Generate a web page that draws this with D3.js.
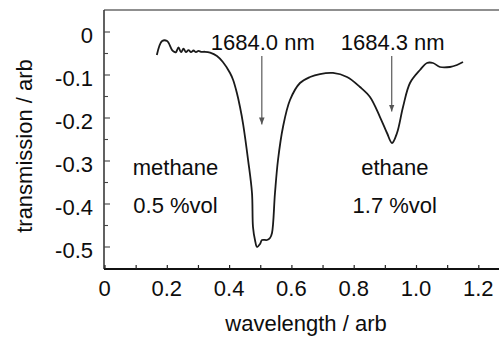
<!DOCTYPE html>
<html>
<head>
<meta charset="utf-8">
<script src="https://cdn.jsdelivr.net/npm/d3@7"></script>
<style>
  html, body { margin: 0; padding: 0; background: #fff; }
  svg { display: block; font-family: "Liberation Sans", Arial, sans-serif; }
</style>
</head>
<body>
<div id="chart"></div>
<script>
// spectrum
const wavelength = [
  0.168, 0.185, 0.201, 0.217, 0.226,
  0.2295, 0.2376, 0.2456, 0.2536, 0.2616, 0.2697, 0.2777, 0.2857, 0.2937, 0.3018, 0.3098, 0.3226,
  0.339, 0.361, 0.380, 0.403, 0.413, 0.425, 0.435, 0.445, 0.461, 0.4735, 0.4767, 0.4831, 0.4896,
  0.4992, 0.5056, 0.5217, 0.5313, 0.5377, 0.5473, 0.557, 0.573, 0.5955, 0.6276, 0.6597, 0.6918,
  0.7335, 0.7785, 0.8202, 0.8523, 0.8844, 0.9069, 0.923, 0.939, 0.9583, 0.9807, 1.0128, 1.0353,
  1.0546, 1.077, 1.1091, 1.1316, 1.1509
]
const transmission = [
  -0.0535, -0.021, -0.021, -0.042, -0.047,
  -0.047, -0.036, -0.047, -0.039, -0.047, -0.042, -0.047, -0.043, -0.047, -0.044, -0.046, -0.046,
  -0.048, -0.0558, -0.0698, -0.0953, -0.1116, -0.1419, -0.1744, -0.214, -0.2977, -0.3744, -0.4535, -0.4837, -0.500,
  -0.493, -0.4837, -0.4837, -0.479, -0.4674, -0.3744, -0.2977, -0.2209, -0.1581, -0.1186, -0.1047, -0.0977,
  -0.0953, -0.1047, -0.1279, -0.1512, -0.1977, -0.2349, -0.2581, -0.2349, -0.1744, -0.1186, -0.0884, -0.0721,
  -0.0721, -0.0814, -0.0814, -0.0767, -0.0698
]

const xTicks = [0, 0.2, 0.4, 0.6, 0.8, 1.0, 1.2]
const xTickLabels = ["0", "0.2", "0.4", "0.6", "0.8", "1.0", "1.2"]
const yTicks = [0, -0.1, -0.2, -0.3, -0.4, -0.5]
const yTickLabels = ["0", "-0.1", "-0.2", "-0.3", "-0.4", "-0.5"]

// peak markers
const peakX = [0.505, 0.922]
const peakLabels = ["1684.0 nm", "1684.3 nm"]
const peakTip = [-0.215, -0.185]

const gasNames = ["methane", "ethane"]
const gasConc = ["0.5 %vol", "1.7 %vol"]
const gasX = [0.228, 0.932]

const width = 499, height = 338
const frameTop = 10, frameBottom = 269, frameLeft = 104

const x = d3.scaleLinear().domain([0, 1.2]).range([104.5, 478.3])
const y = d3.scaleLinear().domain([0, -0.5]).range([32, 247])

const svg = d3.select("#chart").append("svg")
  .attr("width", width)
  .attr("height", height)

const fontSize = 22
const ink = "#0d0d0d"

// frame
svg.append("line")
  .attr("x1", frameLeft).attr("x2", width)
  .attr("y1", frameTop).attr("y2", frameTop)
  .attr("stroke", "#6a6a6a").attr("stroke-width", 1.5)

svg.append("line")
  .attr("x1", frameLeft).attr("x2", frameLeft)
  .attr("y1", frameTop).attr("y2", frameBottom)
  .attr("stroke", "#3a3a3a").attr("stroke-width", 1.6)

svg.append("line")
  .attr("x1", frameLeft).attr("x2", width)
  .attr("y1", frameBottom).attr("y2", frameBottom)
  .attr("stroke", "#111").attr("stroke-width", 1.8)

// x axis ticks (inside) and labels
const xAxis = d3.axisBottom(x)
  .tickValues(d3.range(0, 13).map(i => i / 10))
  .tickSize(-4)
  .tickSizeOuter(0)
  .tickFormat("")

const gx = svg.append("g")
  .attr("transform", "translate(0," + frameBottom + ")")
  .call(xAxis)
gx.select(".domain").remove()
gx.selectAll(".tick line").attr("stroke", "#222").attr("stroke-width", 1.2)

svg.append("g").selectAll("text")
  .data(xTicks)
  .join("text")
    .attr("x", d => x(d))
    .attr("y", 296)
    .attr("text-anchor", "middle")
    .attr("font-size", fontSize)
    .attr("fill", ink)
    .text((d, i) => xTickLabels[i])

// y axis ticks (inside) and labels
const yMinor = d3.range(0, 11).map(i => -i * 0.05)
const gy = svg.append("g")
  .attr("transform", "translate(" + frameLeft + ",0)")
gy.selectAll("line")
  .data(yMinor)
  .join("line")
    .attr("x1", 0)
    .attr("x2", (d, i) => i % 2 === 0 ? 6 : 4)
    .attr("y1", d => y(d))
    .attr("y2", d => y(d))
    .attr("stroke", "#444")
    .attr("stroke-width", 1.1)

svg.append("g").selectAll("text")
  .data(yTicks)
  .join("text")
    .attr("x", 93)
    .attr("y", d => y(d))
    .attr("dy", "0.5em")
    .attr("text-anchor", "end")
    .attr("font-size", fontSize)
    .attr("fill", ink)
    .text((d, i) => yTickLabels[i])

// spectrum
const pts = wavelength.map((w, i) => [w, transmission[i]])
const line = d3.line()
  .x(d => x(d[0]))
  .y(d => y(d[1]))
  .curve(d3.curveCatmullRom.alpha(0.5))

svg.append("path")
  .datum(pts)
  .attr("d", line)
  .attr("fill", "none")
  .attr("stroke", "#1a1a1a")
  .attr("stroke-width", 1.8)

// arrows
svg.append("defs").append("marker")
  .attr("id", "head")
  .attr("viewBox", "0 0 10 10")
  .attr("refX", 10).attr("refY", 5)
  .attr("markerWidth", 7).attr("markerHeight", 7)
  .attr("markerUnits", "userSpaceOnUse")
  .attr("orient", "auto")
  .append("path")
    .attr("d", "M0,1 L10,5 L0,9 Z")
    .attr("fill", "#555")

svg.append("g").selectAll("line")
  .data(peakX)
  .join("line")
    .attr("x1", d => x(d)).attr("x2", d => x(d))
    .attr("y1", 56)
    .attr("y2", (d, i) => y(peakTip[i]))
    .attr("stroke", "#666")
    .attr("stroke-width", 1.3)
    .attr("marker-end", "url(#head)")

svg.append("g").selectAll("text")
  .data(peakLabels)
  .join("text")
    .attr("x", (d, i) => x(peakX[i]) + 1)
    .attr("y", 50)
    .attr("text-anchor", "middle")
    .attr("font-size", fontSize)
    .attr("fill", ink)
    .text(d => d)

// gas labels
const gl = svg.append("g")
gl.selectAll("text.name")
  .data(gasNames)
  .join("text")
    .attr("class", "name")
    .attr("x", (d, i) => x(gasX[i]))
    .attr("y", 175)
    .attr("text-anchor", "middle")
    .attr("font-size", fontSize)
    .attr("fill", ink)
    .text(d => d)
gl.selectAll("text.conc")
  .data(gasConc)
  .join("text")
    .attr("class", "conc")
    .attr("x", (d, i) => x(gasX[i]))
    .attr("y", 213)
    .attr("text-anchor", "middle")
    .attr("font-size", fontSize)
    .attr("fill", ink)
    .text(d => d)

// axis titles
svg.append("text")
  .attr("x", 306)
  .attr("y", 331)
  .attr("text-anchor", "middle")
  .attr("font-size", 22)
  .attr("fill", ink)
  .text("wavelength / arb")

svg.append("text")
  .attr("transform", "translate(32,146) rotate(-90)")
  .attr("text-anchor", "middle")
  .attr("font-size", 22)
  .attr("fill", ink)
  .text("transmission / arb")
</script>
</body>
</html>
